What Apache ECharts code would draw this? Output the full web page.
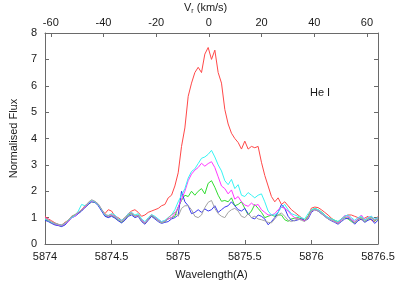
<!DOCTYPE html>
<html><head><meta charset="utf-8">
<script src="https://cdn.jsdelivr.net/npm/echarts@6/dist/echarts.min.js"></script>
<style>html,body{margin:0;padding:0;background:#fff}#c{width:399px;height:285px}</style>
</head><body><div id="c"></div>
<script>
// Wavelength grid (Angstrom): 5874.000 .. 5876.500, step 0.025
const waveStart = 5874.0, waveStep = 0.025;
const xTicks = [5874, 5874.5, 5875, 5875.5, 5876, 5876.5];
const velTicks = [-60, -40, -20, 0, 20, 40, 60];
const yTicks = [0, 1, 2, 3, 4, 5, 6, 7, 8];

const red = [1.05,0.95,0.88,0.8,0.75,0.72,0.82,0.9,1.05,1.1,1.18,1.3,1.45,1.55,1.62,1.6,1.5,1.3,1.15,1.3,
1.25,1.05,1.0,0.9,1.0,1.15,1.25,1.3,1.2,1.05,1.1,1.2,1.25,1.3,1.35,1.45,1.5,1.75,1.85,2.2,
2.7,3.7,4.4,5.6,6.1,6.5,6.7,6.5,7.2,7.45,7.0,7.35,6.5,6.1,5.1,4.55,4.2,4.0,3.85,3.6,
3.9,3.6,3.7,3.65,3.7,3.1,2.6,2.2,1.8,1.6,1.75,1.5,1.6,1.45,1.3,1.2,1.1,1.0,0.88,1.05,
1.36,1.4,1.38,1.3,1.2,1.1,0.98,0.88,0.78,0.95,1.05,1.1,1.1,1.05,1.0,0.92,0.98,1.05,0.9,0.85,1.05];

const green = [0.92,0.88,0.8,0.75,0.7,0.68,0.75,0.88,1.02,1.1,1.18,1.28,1.4,1.5,1.6,1.58,1.48,1.28,1.08,1.02,
1.08,1.0,0.9,0.82,0.92,1.1,1.15,1.05,1.1,0.9,0.78,0.95,1.05,1.0,0.9,0.82,0.85,0.95,1.0,1.05,
1.4,1.65,1.85,1.8,2.0,1.85,2.0,2.1,1.9,2.3,2.4,2.15,1.85,1.62,1.65,1.6,1.75,1.45,1.5,1.6,
1.35,1.1,1.25,1.5,1.35,1.2,1.0,1.05,1.1,1.05,1.1,1.1,0.92,0.86,0.95,0.98,1.0,0.95,0.9,1.05,
1.28,1.35,1.3,1.22,1.1,1.0,0.95,0.9,0.85,0.95,1.0,0.95,0.85,0.8,0.95,1.0,0.85,0.95,1.0,0.88,0.95];

const blue = [0.9,0.85,0.78,0.72,0.7,0.66,0.72,0.85,1.0,1.05,1.15,1.25,1.38,1.5,1.6,1.58,1.45,1.25,1.05,1.0,
1.05,0.98,0.88,0.8,0.9,1.05,1.1,1.0,1.05,0.85,0.75,0.9,1.05,0.95,0.85,0.78,0.82,0.85,0.95,1.0,
1.1,2.0,1.6,1.45,1.15,1.2,1.3,1.2,1.33,1.25,1.3,1.45,1.2,1.3,1.4,1.45,1.6,1.45,1.3,1.25,
1.35,1.15,1.0,0.95,1.1,1.05,0.95,0.73,0.85,1.0,1.2,1.5,1.35,1.05,0.9,0.88,0.92,0.95,0.88,0.95,
1.2,1.3,1.25,1.15,1.05,0.95,0.88,0.82,0.75,0.85,0.95,0.98,0.9,0.75,0.88,0.95,0.82,0.9,0.95,0.78,0.9];

const magenta = [1.0,0.92,0.82,0.76,0.72,0.7,0.76,0.85,1.0,1.05,1.2,1.3,1.4,1.55,1.62,1.6,1.5,1.3,1.1,1.05,
1.1,1.05,0.95,0.88,0.95,1.15,1.18,1.05,1.08,0.92,0.8,0.95,1.1,1.02,0.92,0.85,0.88,0.95,1.0,1.15,
1.4,1.7,2.0,2.4,2.65,2.8,2.9,3.06,2.95,3.05,3.12,2.9,2.55,2.2,2.1,1.9,2.05,1.7,1.8,1.6,
1.48,1.43,1.55,1.45,1.5,1.3,1.2,1.1,1.1,1.15,1.3,1.4,1.35,1.25,1.1,1.0,0.95,0.92,0.88,1.0,
1.25,1.3,1.28,1.2,1.08,1.0,0.92,0.85,0.8,0.92,1.08,1.05,0.95,0.85,0.95,1.1,0.92,1.0,1.05,0.92,1.0];

const cyan = [0.95,0.9,0.82,0.78,0.74,0.72,0.78,0.9,1.0,1.08,1.25,1.5,1.45,1.55,1.65,1.6,1.5,1.3,1.1,1.08,
1.15,1.1,0.95,0.9,0.98,1.15,1.2,1.1,1.15,0.95,0.85,1.0,1.12,1.05,0.95,0.85,0.9,1.0,1.1,1.3,
1.6,1.85,2.1,2.5,2.75,2.85,3.05,3.25,3.3,3.4,3.55,3.3,3.0,2.77,2.4,2.25,2.45,2.1,2.25,1.85,
1.8,1.95,1.85,1.75,1.85,1.9,1.6,1.25,1.1,1.1,1.2,1.4,1.5,1.3,1.15,1.1,1.05,1.0,0.95,1.15,
1.3,1.35,1.3,1.2,1.1,1.0,0.95,0.9,0.85,0.95,1.05,1.1,1.0,0.9,1.0,1.05,0.9,1.0,1.05,0.95,1.0];

const gray = [0.98,0.9,0.84,0.78,0.74,0.72,0.8,0.9,1.05,1.12,1.2,1.3,1.42,1.58,1.68,1.62,1.52,1.32,1.12,1.08,
1.12,1.02,0.92,0.85,0.95,1.12,1.18,1.05,1.08,0.88,0.78,0.95,1.1,1.0,0.88,0.8,0.85,1.0,1.1,1.2,
1.05,1.35,1.45,1.45,1.3,1.05,1.0,1.1,1.38,1.58,1.65,1.35,1.15,1.05,1.0,1.2,1.3,1.35,1.25,1.05,
1.0,1.15,1.0,1.05,0.95,0.92,0.88,0.82,0.8,0.95,1.1,1.18,1.05,0.9,0.85,0.9,0.95,0.9,0.85,1.0,
1.25,1.3,1.25,1.15,1.05,0.95,0.9,0.85,0.78,0.88,1.0,1.02,0.92,0.8,0.92,1.0,0.85,0.95,1.0,0.9,0.95];

const seriesDefs = [
  {name:'red', data:red, color:'#ff4848'},
  {name:'green', data:green, color:'#30dd30'},
  {name:'blue', data:blue, color:'#3838f0'},
  {name:'magenta', data:magenta, color:'#ff38ff'},
  {name:'cyan', data:cyan, color:'#38f4f4'},
  {name:'gray', data:gray, color:'#a4a4a4'}
];

function pairs(arr){ return arr.map((v,i)=>[+(waveStart + i*waveStep).toFixed(3), v]); }

const axisCol = '#6a6a6a';
const txt = '#1a1a1a';
const font = 'Liberation Sans, Arial, sans-serif';
const chart = echarts.init(document.getElementById('c'), null, {renderer:'canvas'});
chart.setOption({
  animation:false,
  backgroundColor:'#fff',
  grid:{left:41, right:21, top:33, bottom:37},
  xAxis:[{
    type:'value', position:'bottom', min:5874, max:5876.5, interval:0.5,
    axisLine:{show:true, onZero:false, lineStyle:{color:axisCol, width:1}},
    axisTick:{show:true, inside:true, length:4, lineStyle:{color:axisCol}},
    axisLabel:{color:txt, fontSize:11, fontFamily:font, margin:7, showMinLabel:true, showMaxLabel:true,
      formatter:function(v){ return String(+v.toFixed(1)); }},
    splitLine:{show:false},
    name:'Wavelength(A)', nameLocation:'middle', nameGap:25,
    nameTextStyle:{color:txt, fontSize:11, fontFamily:font}
  },{
    type:'value', position:'top', min:-62.2, max:64.2,
    axisLine:{show:true, onZero:false, lineStyle:{color:axisCol, width:1}},
    axisTick:{show:true, inside:true, length:4, lineStyle:{color:axisCol}, customValues:velTicks},
    axisLabel:{color:txt, fontSize:11, fontFamily:font, margin:5, customValues:velTicks},
    splitLine:{show:false}
  }],
  yAxis:[{
    type:'value', position:'left', min:0, max:8, interval:1,
    axisLine:{show:true, onZero:false, lineStyle:{color:axisCol, width:1}},
    axisTick:{show:true, inside:true, length:4, lineStyle:{color:axisCol}},
    axisLabel:{color:txt, fontSize:11, fontFamily:font, margin:8},
    splitLine:{show:false},
    name:'Normalised Flux', nameLocation:'middle', nameGap:26,
    nameTextStyle:{color:txt, fontSize:11, fontFamily:font}
  },{
    type:'value', position:'right', min:0, max:8, interval:1,
    axisLine:{show:true, onZero:false, lineStyle:{color:axisCol, width:1}},
    axisTick:{show:true, inside:true, length:4, lineStyle:{color:axisCol}},
    axisLabel:{show:false}, splitLine:{show:false}
  }],
  graphic:[
    {type:'text', left:184, top:2, style:{
      text:'{v|V}{s|r}{v| (km/s)}',
      rich:{v:{fontSize:11, fontFamily:font, fill:txt}, s:{fontSize:7, fontFamily:font, fill:txt, padding:[7,0,0,0]}}
    }},
    {type:'text', left:310, top:87, style:{text:'He I', fontSize:11, fontFamily:font, fill:txt}}
  ],
  series: seriesDefs.map(s=>({
    type:'line', name:s.name, xAxisIndex:0, yAxisIndex:0,
    data:pairs(s.data), showSymbol:false, symbol:'none',
    lineStyle:{color:s.color, width:1}, itemStyle:{color:s.color},
    clip:true, silent:true
  }))
});
</script></body></html>
